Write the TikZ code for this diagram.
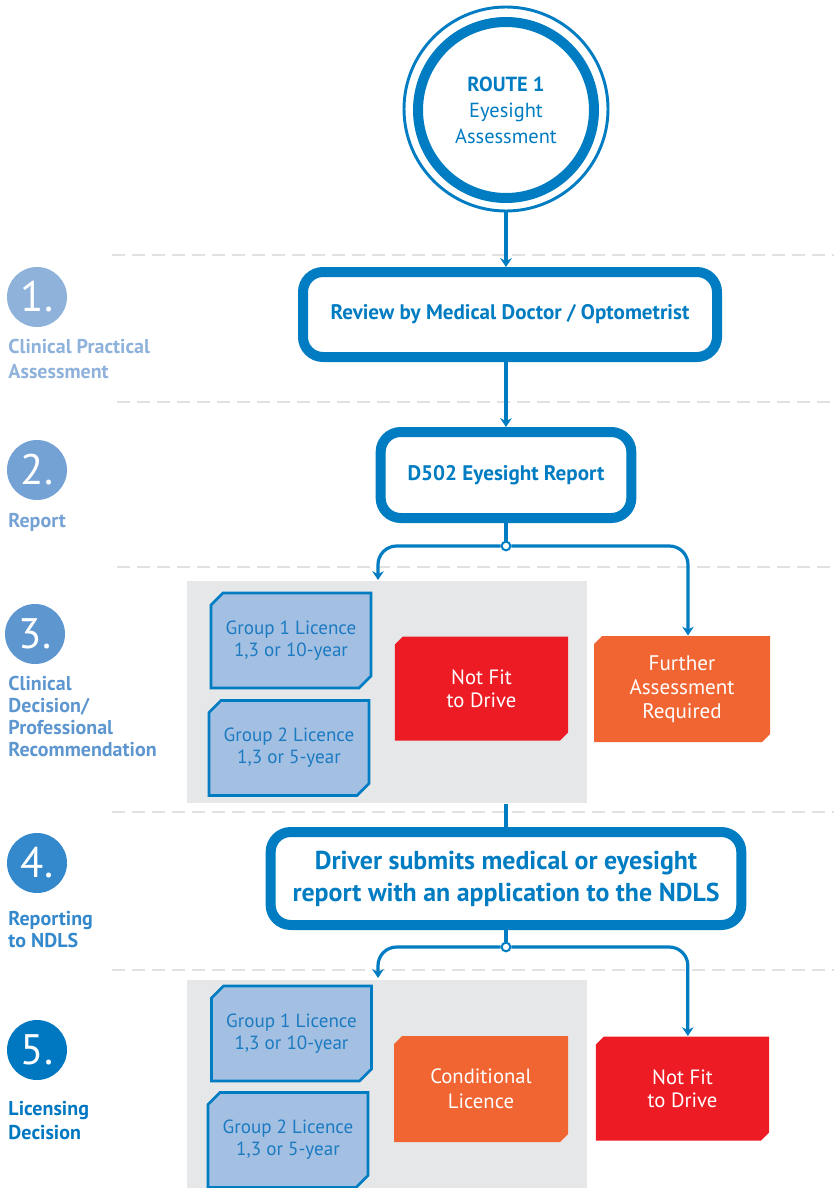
\documentclass[tikz,border=0pt]{standalone}
\usepackage{fontspec}
\setmainfont{PT Sans}
\usetikzlibrary{arrows.meta,shapes.misc}

\definecolor{ndblue}{RGB}{0,124,194}
\definecolor{grptext}{RGB}{28,122,192}
\definecolor{grpfill}{RGB}{163,192,227}
\definecolor{panelgrey}{RGB}{230,231,232}
\definecolor{sepgrey}{RGB}{224,225,226}
\definecolor{ndred}{RGB}{237,28,36}
\definecolor{ndorange}{RGB}{241,101,50}
\definecolor{stepA}{RGB}{143,178,219}
\definecolor{stepB}{RGB}{117,162,212}
\definecolor{stepC}{RGB}{94,150,208}
\definecolor{stepD}{RGB}{52,136,204}
\definecolor{stepE}{RGB}{0,119,193}

\tikzset{every picture/.style={line width=0.75pt}}
\tikzset{
  sepline/.style={draw=sepgrey, line width=1.5pt, dash pattern={on 10pt off 5pt}},
  panel/.style={rectangle, fill=panelgrey, minimum width=300pt, inner sep=0pt},
  routering/.style={circle, draw=ndblue, line width=7.5pt, fill=white, minimum size=132pt, inner sep=0pt,
    text=ndblue, align=center, font=\fontsize{15.3}{19.5}\selectfont},
  routeouter/.style={circle, draw=ndblue, line width=2.2pt, minimum size=153pt, inner sep=0pt},
  mainbox/.style={rectangle, rounded corners=15pt, draw=ndblue, line width=7.5pt, fill=white, inner sep=0pt,
    text=ndblue, align=center, font=\bfseries\fontsize{15.8}{19}\selectfont},
  grpbox/.style={chamfered rectangle, chamfered rectangle corners={north west,south east},
    chamfered rectangle sep=4.5pt, draw=ndblue, line width=1.9pt, fill=grpfill, inner sep=0pt,
    minimum width=120pt, minimum height=71.25pt, text=grptext, align=center,
    font=\fontsize{14.3}{16.5}\selectfont},
  decbox/.style={chamfered rectangle, chamfered rectangle corners={north west,south east},
    chamfered rectangle sep=3pt, draw=none, inner sep=0pt, minimum width=130pt, minimum height=78pt,
    text=white, align=center, font=\fontsize{15.5}{17.5}\selectfont},
  notfit/.style={decbox, fill=ndred},
  further/.style={decbox, fill=ndorange},
  flow/.style={draw=ndblue, line width=2.4pt, -{Stealth[length=6.5pt,width=8.5pt,inset=2pt]}},
  link/.style={draw=ndblue, line width=2.4pt},
  jdot/.style={circle, draw=ndblue, fill=white, line width=1.5pt, minimum size=6.5pt, inner sep=0pt},
  stepdot/.style={circle, minimum size=45pt, inner sep=0pt, text=white, font=\fontsize{32}{32}\selectfont},
  steptext/.style={anchor=base west, align=left, inner sep=0pt, font=\bfseries\fontsize{15}{17.25}\selectfont}
}

\begin{document}
\begin{tikzpicture}[x=0.75pt,y=0.75pt,yscale=-1,xscale=1]
        \useasboundingbox (0,0) rectangle (834,1188);

        %Dashed separators
        \foreach \yy/\xx in {255/112,402/117,567/117,812/112,970/112}
          \draw[sepline] (\xx,\yy) -- (834,\yy);

        %Grey panels
        \node[panel, minimum height=166.5pt] (panelA) at (387,692) {};
        \node[panel, minimum height=156pt] (panelB) at (387,1084) {};

        %Route circle
        \node[routeouter] (routeout) at (506,109) {};
        \node[routering] (route) at (506,110) {\textbf{ROUTE 1}\\Eyesight\\Assessment};

        %Main boxes
        \node[mainbox, minimum width=310.5pt, minimum height=63.75pt] (review) at (510,314.5) {Review by Medical Doctor / Optometrist};
        \node[mainbox, minimum width=188pt, minimum height=64.5pt] (report) at (506,475) {D502 Eyesight Report};
        \node[mainbox, minimum width=353pt, minimum height=69.75pt, font=\bfseries\fontsize{19.4}{24}\selectfont] (driver) at (506,878.5) {Driver submits medical or eyesight\\report with an application to the NDLS};

        %Step 3 boxes
        \node[grpbox] (grpA) at (291,640.5) {Group 1 Licence\\1,3 or 10-year};
        \node[grpbox] (grpB) at (289,748) {Group 2 Licence\\1,3 or 5-year};
        \node[notfit] (nfa) at (481.5,688.5) {Not Fit\\to Drive};
        \node[further, minimum width=132pt, minimum height=79.5pt, font=\fontsize{15.8}{18}\selectfont] (far) at (682,689) {Further\\Assessment\\Required};

        %Step 5 boxes
        \node[grpbox] (grpC) at (291.5,1033.5) {Group 1 Licence\\1,3 or 10-year};
        \node[grpbox] (grpD) at (288,1140) {Group 2 Licence\\1,3 or 5-year};
        \node[further, minimum width=130.5pt, minimum height=79.5pt, font=\fontsize{15.5}{18.5}\selectfont] (cond) at (481,1089) {Conditional\\Licence};
        \node[notfit] (nfb) at (682.5,1088.5) {Not Fit\\to Drive};

        %Junctions
        \node[jdot] (j1) at (506,546) {};
        \node[jdot] (j2) at (506,947) {};
        \coordinate (tipA) at (378,580);
        \coordinate (tipB) at (378,978);

        %Connectors
        \draw[flow] (routeout.south) -- (routeout.south |- review.north);
        \draw[flow] (report.north |- review.south) -- (report.north);
        \draw[link] (report.south) -- (j1);
        \draw[flow, rounded corners=14pt] (j1) -| (tipA);
        \draw[flow, rounded corners=14pt] (j1) -| ([xshift=4.5pt]far.north);
        \draw[link] (driver.north |- panelA.south) -- (driver.north);
        \draw[link] (driver.south) -- (j2);
        \draw[flow, rounded corners=14pt] (j2) -| (tipB);
        \draw[flow, rounded corners=14pt] (j2) -| ([xshift=4pt]nfb.north);

        %Steps
        \node[stepdot, fill=stepA] (s1) at (37,297) {1.};
        \node[stepdot, fill=stepB] (s2) at (37,470) {2.};
        \node[stepdot, fill=stepC] (s3) at (35,634) {3.};
        \node[stepdot, fill=stepD] (s4) at (37,863) {4.};
        \node[stepdot, fill=stepE] (s5) at (37,1050) {5.};
        \node[steptext, text=stepA, font=\bfseries\fontsize{15}{18.5}\selectfont] (t1) at (8,378) {Clinical Practical\\Assessment};
        \node[steptext, text=stepB] (t2) at (8,527) {Report};
        \node[steptext, text=stepC, font=\bfseries\fontsize{15}{16.3}\selectfont] (t3) at (8,756) {Clinical\\Decision/\\Professional\\Recommendation};
        \node[steptext, text=stepD, font=\bfseries\fontsize{15}{16.5}\selectfont] (t4) at (8,947) {Reporting\\to NDLS};
        \node[steptext, text=stepE, font=\bfseries\fontsize{15}{18}\selectfont] (t5) at (8,1139) {Licensing\\Decision};
\end{tikzpicture}
\end{document}
